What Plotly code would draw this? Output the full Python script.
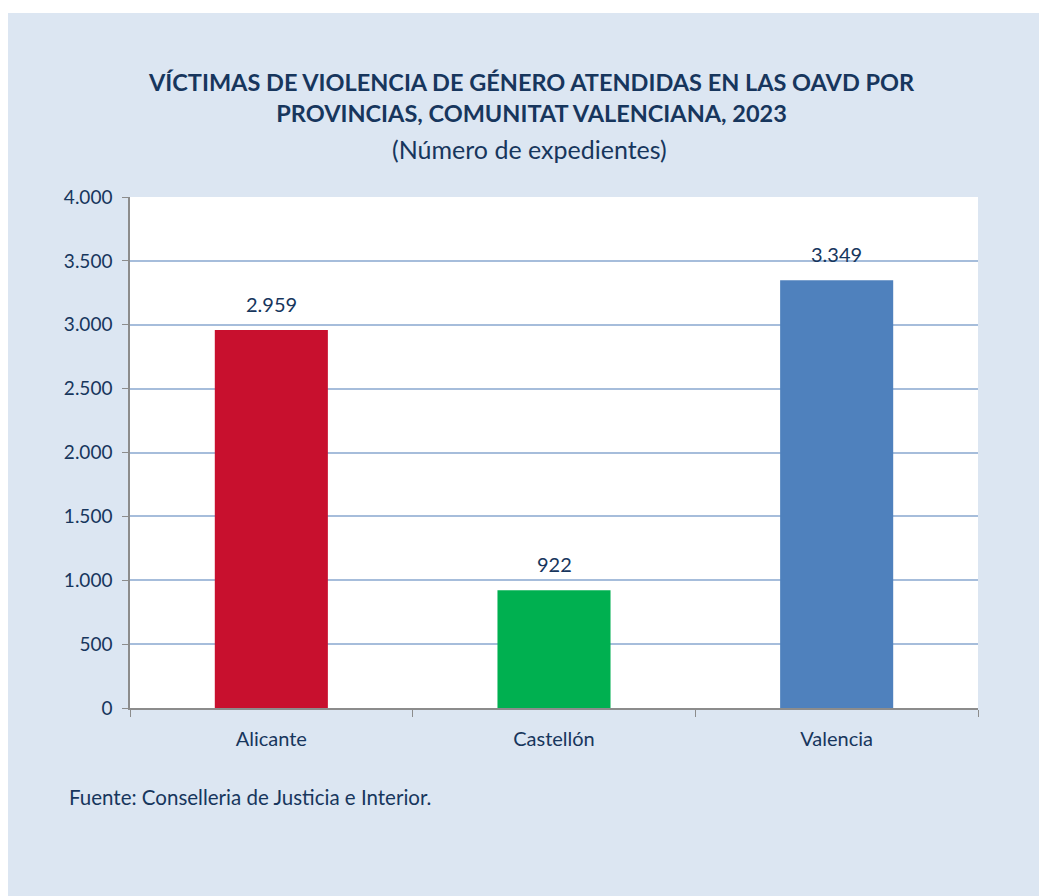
import plotly.graph_objects as go

categories = ["Alicante", "Castellón", "Valencia"]
values = [2959, 922, 3349]
bar_colors = ["#C8102E", "#00B050", "#4F81BD"]
y_ticks = [0, 500, 1000, 1500, 2000, 2500, 3000, 3500, 4000]

title_lines = ["VÍCTIMAS DE VIOLENCIA DE GÉNERO ATENDIDAS EN LAS OAVD POR",
               "PROVINCIAS, COMUNITAT VALENCIANA, 2023"]
subtitle = "(Número de expedientes)"
source = "Fuente: Conselleria de Justicia e Interior."

# page has an 8px body margin; work in page pixels and convert
OFF = 8
W, H = 1047 - OFF, 896 - OFF
L, T = 130 - OFF, 197 - OFF
R = W - (978 - OFF)
B = H - (708 - OFF)
pw, ph = W - L - R, H - T - B

def px_x(p):
    return (p - OFF - L) / pw

def px_y(p):
    return (H - B - (p - OFF)) / ph

FONT = "Lato"
NAVY = "#17365D"

fig = go.Figure()
fig.add_trace(go.Bar(
    x=categories, y=values, marker=dict(color=bar_colors, line=dict(width=0)),
    width=0.40, showlegend=False, hoverinfo="skip",
))

for c, v in zip(categories, values):
    fig.add_annotation(x=c, y=v, text=f"{v:,}".replace(",", "."), showarrow=False,
                       yshift=26, font=dict(family=FONT, size=20, color=NAVY))

# white strip above the panel
fig.add_shape(type="rect", xref="paper", yref="paper", layer="below",
              x0=px_x(0), x1=px_x(1060), y0=px_y(13), y1=px_y(0),
              fillcolor="white", line=dict(width=0))

fig.add_annotation(xref="paper", yref="paper", x=px_x(531), y=px_y(97),
                   text="<b>" + title_lines[0] + "<br>" + title_lines[1] + "</b>",
                   showarrow=False, align="center", yanchor="middle",
                   font=dict(family=FONT, size=23.5, color=NAVY))
fig.add_annotation(xref="paper", yref="paper", x=px_x(529), y=px_y(149),
                   text=subtitle, showarrow=False, yanchor="middle",
                   font=dict(family=FONT, size=25, color=NAVY))
fig.add_annotation(xref="paper", yref="paper", x=px_x(67), y=px_y(797),
                   text=source, showarrow=False, xanchor="left", yanchor="middle",
                   font=dict(family=FONT, size=20.5, color=NAVY))

fig.update_layout(
    width=W, height=H,
    margin=dict(l=L, r=R, t=T, b=B, pad=0),
    paper_bgcolor="#DCE6F2", plot_bgcolor="white",
    separators=",.",
    bargap=0.6,
    font=dict(family=FONT, size=19, color=NAVY),
)
fig.update_xaxes(
    showline=True, linecolor="#8C8C8C", linewidth=1.5,
    ticks="outside", ticklen=7, tickcolor="#8C8C8C", tickson="boundaries",
    ticklabelstandoff=12,
    tickfont=dict(family=FONT, size=20, color=NAVY), showgrid=False,
)
fig.update_yaxes(
    range=[0, 4000], tickvals=y_ticks, tickformat=",",
    showline=True, linecolor="#8C8C8C", linewidth=1.5,
    ticks="outside", ticklen=6, tickcolor="#8C8C8C",
    ticklabelstandoff=6,
    showgrid=True, gridcolor="#A6BDDB", gridwidth=1.5,
    tickfont=dict(family=FONT, size=19, color=NAVY), zeroline=False,
)

fig.write_html("out.html")
